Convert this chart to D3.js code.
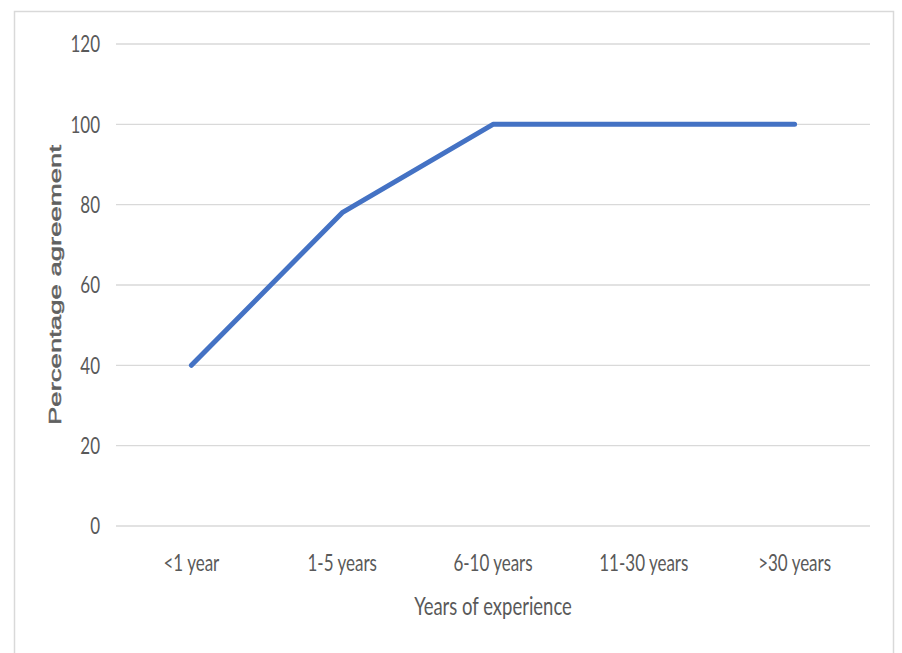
<!DOCTYPE html>
<html>
<head>
<meta charset="utf-8">
<script src="https://cdn.jsdelivr.net/npm/d3@7"></script>
<style>
  html, body { margin: 0; padding: 0; background: #fff; }
  svg { display: block; }
  .tick-label { font-family: Lato, "Open Sans", sans-serif; font-size: 17px; fill: #595959; }
  .axis-title { font-family: Lato, "Open Sans", sans-serif; font-size: 18.5px; fill: #595959; }
  .y-title { font-family: "Liberation Sans", Arial, sans-serif; font-size: 17px; fill: #606060; stroke: #606060; stroke-width: 0.45px; }
</style>
</head>
<body>
<svg id="chart" width="902" height="653"></svg>
<script>
const categories = ["<1 year", "1-5 years", "6-10 years", "11-30 years", ">30 years"];
const agreement = [40, 78, 100, 100, 100];
const yTicks = [0, 20, 40, 60, 80, 100, 120];

const svg = d3.select("#chart");
const plot = { left: 116, right: 870, top: 44, bottom: 526 };
// text in this figure is drawn tall and narrow
const STRETCH = 1.4;

// chart frame
svg.append("rect")
  .attr("x", 14.5).attr("y", 11.5)
  .attr("width", 879).attr("height", 660)
  .attr("fill", "#fff").attr("stroke", "#d9d9d9").attr("stroke-width", 1.5);

const x = d3.scaleBand().domain(categories).range([plot.left, plot.right]);
const y = d3.scaleLinear().domain([0, 120]).range([plot.bottom, plot.top]);

// horizontal gridlines
svg.append("g").selectAll("line").data(yTicks).join("line")
  .attr("x1", plot.left).attr("x2", plot.right)
  .attr("y1", d => y(d)).attr("y2", d => y(d))
  .attr("stroke", "#d9d9d9").attr("stroke-width", 1.3);

// y tick labels
svg.append("g").selectAll("text").data(yTicks).join("text")
  .attr("class", "tick-label")
  .attr("transform", d => `translate(100,${y(d)}) scale(1,${STRETCH})`)
  .attr("dy", "0.35em").attr("text-anchor", "end")
  .text(d => d);

// x tick labels
svg.append("g").selectAll("text").data(categories).join("text")
  .attr("class", "tick-label")
  .attr("transform", d => `translate(${x(d) + x.bandwidth() / 2},563) scale(1,${STRETCH})`)
  .attr("dy", "0.35em").attr("text-anchor", "middle")
  .text(d => d);

// axis titles
svg.append("text").attr("class", "axis-title")
  .attr("transform", `translate(${(plot.left + plot.right) / 2},606) scale(1,${STRETCH})`)
  .attr("dy", "0.35em").attr("text-anchor", "middle")
  .text("Years of experience");

svg.append("text").attr("class", "y-title")
  .attr("transform", "translate(55,285) scale(1,1.62) rotate(-90)")
  .attr("dy", "0.35em").attr("text-anchor", "middle")
  .text("Percentage agreement");

// data line
const line = d3.line()
  .x((d, i) => x(categories[i]) + x.bandwidth() / 2)
  .y(d => y(d));

svg.append("path").datum(agreement)
  .attr("d", line)
  .attr("fill", "none")
  .attr("stroke", "#4472c4")
  .attr("stroke-width", 5)
  .attr("stroke-linejoin", "round")
  .attr("stroke-linecap", "round");
</script>
</body>
</html>
